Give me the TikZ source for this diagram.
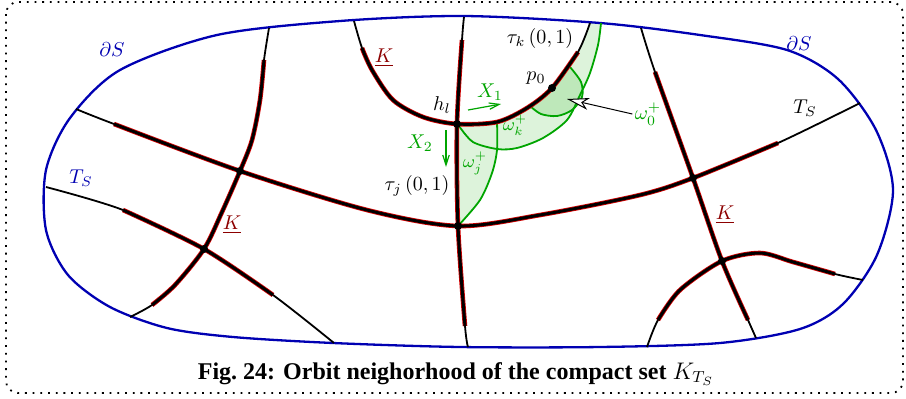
\documentclass[tikz,border=0pt]{standalone}
\usepackage{fontspec}
\newfontfamily\capfont{Liberation Serif}
\usetikzlibrary{arrows.meta, positioning, backgrounds}
\definecolor{bdry}{RGB}{0,0,178}
\definecolor{kred}{RGB}{210,0,0}
\definecolor{klabel}{RGB}{140,0,0}
\definecolor{orb}{RGB}{0,165,0}
\definecolor{orbfill}{RGB}{221,243,219}
\definecolor{orbdark}{RGB}{190,232,186}

\begin{document}
\begin{tikzpicture}[
    x=0.5pt, y=-0.5pt,
    frame/.style={draw, line width=0.9pt, dash pattern=on 0.9pt off 2.95pt, rounded corners=6pt},
    boundary/.style={draw=bdry, line width=1.15pt},
    orbitline/.style={draw=black, line width=0.9pt},
    kpart/.style={draw=kred, line width=0.4pt, double=black, double distance=1.5pt},
    flow/.style={draw=orb, line width=0.9pt},
    vec/.style={draw=orb, line width=0.6pt, -{Straight Barb[length=5pt, width=3.2pt]}},
    klbl/.style={text=klabel, inner sep=1pt},
    glbl/.style={text=orb, inner sep=1pt},
    lbl/.style={inner sep=1pt}
]

\useasboundingbox (0,0) rectangle (906,398);
\path[frame] (6,2) rectangle (903,393);

\coordinate (ja) at (240,171);
\coordinate (jb) at (204,249);
\coordinate (jc) at (458,226);
\coordinate (jd) at (693,178);
\coordinate (je) at (722,261);
\coordinate (hl) at (457,124);
\coordinate (p0) at (552,88);

\fill[orbfill] plot[smooth] coordinates {(hl) (497,122) (527,108) (p0) (578,52) (590,23)}
    -- (601,23) -- plot[smooth] coordinates {(598,45) (590,73) (580,95) (567,120) (543,138) (517,148) (497,149) (473,142) (459,126)} -- cycle;
\fill[orbfill] (hl) -- plot[smooth] coordinates {(jc) (480,200) (492,173) (497,150) (497,122)} -- cycle;
\fill[orbdark] plot[smooth] coordinates {(530,106) (p0) (570,67)}
    -- plot[smooth] coordinates {(570,67) (581,82) (582,97) (572,110) (557,116) (541,114) (530,106)} -- cycle;

\path[boundary] plot[smooth cycle] coordinates {(464,16) (600,23) (700,35) (787,50) (838,79) (876,130) (893,190) (877,255) (843,304) (800,329) (720,343) (600,347) (460,347) (333,343) (233,337) (167,328) (110,307) (68,275) (46,230) (46,170) (70,118) (120,70) (217,35) (340,21)};

\path[flow] plot[smooth] coordinates {(459,126) (473,142) (497,149) (517,148) (543,138) (567,120) (580,95) (590,73) (598,45) (601,23)};
\path[flow] plot[smooth] coordinates {(497,122) (497,150) (492,173) (480,200) (jc)};
\path[flow] plot[smooth] coordinates {(570,67) (581,82) (582,97) (572,110) (557,116) (541,114) (530,106)};

\path[orbitline] plot[smooth] coordinates {(269,28) (264,60) (260,100) (252,140) (ja) (222,212) (jb) (175,285) (152,305) (130,317)};
\path[orbitline] plot[smooth] coordinates {(76,109) (114,124) (ja) (367,210) (jc) (540,215) (640,195) (jd) (778,143) (860,103)};
\path[orbitline] plot[smooth] coordinates {(46,187) (123,210) (jb) (273,295) (334,343)};
\path[orbitline] plot[smooth] coordinates {(464,17) (462,40) (hl) (jc) (465,326) (468,347)};
\path[orbitline] plot[smooth] coordinates {(354,21) (362,48) (372,70) (393,100) (423,117) (hl) (497,122) (527,108) (p0) (578,52) (590,23)};
\path[orbitline] plot[smooth] coordinates {(641,28) (655,72) (jd) (je) (748,320) (756,338)};
\path[orbitline] plot[smooth] coordinates {(647,347) (658,320) (680,290) (je) (760,253) (793,262) (835,274) (863,280)};

\path[kpart] plot[smooth] coordinates {(264,60) (260,100) (252,140) (ja) (222,212) (jb) (175,285) (152,305)};
\path[kpart] plot[smooth] coordinates {(114,124) (ja) (367,210) (jc) (540,215) (640,195) (jd) (778,143)};
\path[kpart] plot[smooth] coordinates {(123,210) (jb) (273,295)};
\path[kpart] plot[smooth] coordinates {(462,40) (hl) (jc) (465,326)};
\path[kpart] plot[smooth] coordinates {(362,48) (372,70) (393,100) (423,117) (hl) (497,122) (527,108) (p0) (578,52)};
\path[kpart] plot[smooth] coordinates {(655,72) (jd) (je) (748,320)};
\path[kpart] plot[smooth] coordinates {(658,320) (680,290) (je) (760,253) (793,262) (835,274)};

\foreach \p in {ja,jb,jc,jd,je,hl,p0}
    \fill (\p) circle (2pt);

\node[text=bdry, lbl] (ds1) at (112,50) {$\partial S$};
\node[text=bdry, lbl] (ds2) at (799,44) {$\partial S$};
\node[text=bdry, lbl] (ts1) at (81,178) {$T_S$};
\node[lbl] (ts2) at (805,108) {$T_S$};
\node[klbl] (k1) at (384,58) {$\underline{K}$};
\node[klbl] (k2) at (232,225) {$\underline{K}$};
\node[klbl] (k3) at (725,215) {$\underline{K}$};
\node[lbl] (hlab) at (442,105) {$h_l$};
\node[lbl] (plab) at (536,78) {$p_0$};
\node[lbl] (tauk) at (540,38) {$\tau_k\,(0,1)$};
\node[lbl] (tauj) at (417,186) {$\tau_j\,(0,1)$};
\node[glbl] (x1) at (490,92) {$X_1$};
\node[glbl] (x2) at (420,143) {$X_2$};
\node[glbl, font=\small] (wk) at (515,125) {$\omega_k^+$};
\node[glbl, font=\small] (wj) at (475,163) {$\omega_j^+$};
\node[glbl] (w0) at (648,114) {$\omega_0^+$};
\coordinate (x1a) at (468,110);
\coordinate (x1b) at (501,104);
\coordinate (x2a) at (446,130);
\coordinate (x2b) at (446,167);
\coordinate (w0tip) at (567,99);

\path[vec] (x1a) -- (x1b);
\path[vec] (x2a) -- (x2b);
\draw[line width=0.5pt, -{Stealth[open, fill=white, length=11pt, width=6pt, inset=3pt]}] (w0.west) -- (w0tip);

\node[font=\capfont\bfseries\fontsize{12}{14}\selectfont] (cap) at (456,374) {Fig.~24: Orbit neighorhood of the compact set $K_{T_S}$};

\end{tikzpicture}
\end{document}
